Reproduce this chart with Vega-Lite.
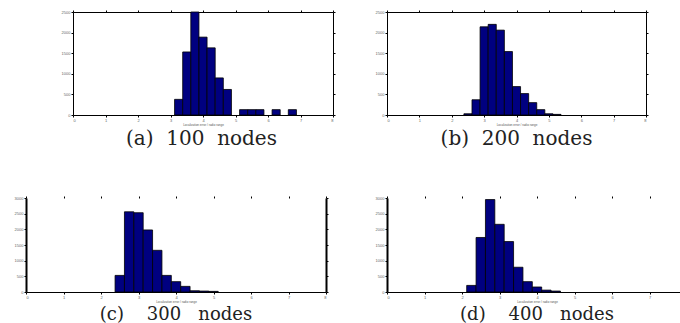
{
  "$schema": "https://vega.github.io/schema/vega-lite/v6.json",
  "padding": {"left": 14, "top": 9, "right": 0, "bottom": 0},
  "background": "white",
  "datasets": {
    "hist": [
      {"panel": "a", "x0": 3.125, "x1": 3.375, "count": 380},
      {"panel": "a", "x0": 3.375, "x1": 3.625, "count": 1530},
      {"panel": "a", "x0": 3.625, "x1": 3.875, "count": 2500},
      {"panel": "a", "x0": 3.875, "x1": 4.125, "count": 1890},
      {"panel": "a", "x0": 4.125, "x1": 4.375, "count": 1630},
      {"panel": "a", "x0": 4.375, "x1": 4.625, "count": 900},
      {"panel": "a", "x0": 4.625, "x1": 4.875, "count": 620},
      {"panel": "a", "x0": 5.125, "x1": 5.375, "count": 130},
      {"panel": "a", "x0": 5.375, "x1": 5.625, "count": 130},
      {"panel": "a", "x0": 5.625, "x1": 5.875, "count": 130},
      {"panel": "a", "x0": 6.125, "x1": 6.375, "count": 130},
      {"panel": "a", "x0": 6.625, "x1": 6.875, "count": 130},
      {"panel": "b", "x0": 2.375, "x1": 2.625, "count": 30},
      {"panel": "b", "x0": 2.625, "x1": 2.875, "count": 370},
      {"panel": "b", "x0": 2.875, "x1": 3.125, "count": 2140},
      {"panel": "b", "x0": 3.125, "x1": 3.375, "count": 2200},
      {"panel": "b", "x0": 3.375, "x1": 3.625, "count": 2060},
      {"panel": "b", "x0": 3.625, "x1": 3.875, "count": 1540},
      {"panel": "b", "x0": 3.875, "x1": 4.125, "count": 690},
      {"panel": "b", "x0": 4.125, "x1": 4.375, "count": 520},
      {"panel": "b", "x0": 4.375, "x1": 4.625, "count": 300},
      {"panel": "b", "x0": 4.625, "x1": 4.875, "count": 130},
      {"panel": "b", "x0": 4.875, "x1": 5.125, "count": 30},
      {"panel": "b", "x0": 5.125, "x1": 5.375, "count": 15},
      {"panel": "c", "x0": 2.375, "x1": 2.625, "count": 530},
      {"panel": "c", "x0": 2.625, "x1": 2.875, "count": 2560},
      {"panel": "c", "x0": 2.875, "x1": 3.125, "count": 2530},
      {"panel": "c", "x0": 3.125, "x1": 3.375, "count": 1980},
      {"panel": "c", "x0": 3.375, "x1": 3.625, "count": 1330},
      {"panel": "c", "x0": 3.625, "x1": 3.875, "count": 530},
      {"panel": "c", "x0": 3.875, "x1": 4.125, "count": 330},
      {"panel": "c", "x0": 4.125, "x1": 4.375, "count": 180},
      {"panel": "c", "x0": 4.375, "x1": 4.625, "count": 40},
      {"panel": "c", "x0": 4.625, "x1": 4.875, "count": 30},
      {"panel": "c", "x0": 4.875, "x1": 5.125, "count": 20},
      {"panel": "d", "x0": 2.125, "x1": 2.375, "count": 210},
      {"panel": "d", "x0": 2.375, "x1": 2.625, "count": 1740},
      {"panel": "d", "x0": 2.625, "x1": 2.875, "count": 2950},
      {"panel": "d", "x0": 2.875, "x1": 3.125, "count": 2160},
      {"panel": "d", "x0": 3.125, "x1": 3.375, "count": 1610},
      {"panel": "d", "x0": 3.375, "x1": 3.625, "count": 790},
      {"panel": "d", "x0": 3.625, "x1": 3.875, "count": 330},
      {"panel": "d", "x0": 3.875, "x1": 4.125, "count": 160},
      {"panel": "d", "x0": 4.125, "x1": 4.375, "count": 60},
      {"panel": "d", "x0": 4.375, "x1": 4.625, "count": 30}
    ]
  },
  "data": {"name": "hist"},
  "config": {
    "view": {"stroke": "black", "strokeWidth": 1},
    "axis": {
      "labelFontSize": 4, "labelColor": "#666", "labelFont": "Liberation Sans",
      "tickSize": 2, "tickColor": "black", "labelPadding": 1,
      "domainColor": "black", "grid": false,
      "titleFontSize": 3, "titleFont": "Liberation Sans", "titleColor": "#555", "titleFontWeight": "normal", "titlePadding": 1
    },
    "title": {"font": "DejaVu Serif", "fontSize": 20, "fontWeight": "normal", "color": "#222", "orient": "bottom", "offset": 3}
  },
  "columns": 2,
  "spacing": {"column": 38, "row": 45},
  "concat": [
    {
      "width": 307, "height": 103,
      "view": {"stroke": null},
      "title": {"text": "(a)\u00a0\u00a0100\u00a0\u00a0nodes", "dx": 22},
      "transform": [{"filter": "datum.panel == 'a'"}],
      "layer": [
        {
          "mark": {"type": "bar", "fill": "#000080", "stroke": "black", "strokeWidth": 0.8},
          "encoding": {
            "x": {"field": "x0", "type": "quantitative", "scale": {"domain": [0, 8], "nice": false, "range": [47, 307]}, "axis": {"values": [0,1,2,3,4,5,6,7,8], "title": "Localization error / radio range"}},
            "x2": {"field": "x1"},
            "y": {"field": "count", "type": "quantitative", "scale": {"domain": [0, 2500], "nice": false}, "axis": {"values": [0,500,1000,1500,2000,2500], "format": "d", "title": null, "offset": -47}},
            "y2": {"datum": 0}
          }
        },
        {
          "mark": {"type": "bar", "opacity": 0},
          "encoding": {
            "x": {"field": "x0", "type": "quantitative", "scale": {"domain": [0, 8], "nice": false, "range": [47, 307]}, "axis": {"orient": "top", "values": [0,1,2,3,4,5,6,7,8], "labels": false, "domain": true, "title": null}},
            "x2": {"field": "x1"},
            "y": {"field": "count", "type": "quantitative", "scale": {"domain": [0, 2500], "nice": false}, "axis": {"orient": "right", "values": [0,500,1000,1500,2000,2500], "labels": false, "domain": true, "title": null}},
            "y2": {"datum": 0}
          }
        }
      ],
      "resolve": {"axis": {"x": "independent", "y": "independent"}}
    },
    {
      "width": 259, "height": 103,
      "title": {"text": "(b)\u00a0\u00a0200\u00a0\u00a0nodes"},
      "transform": [{"filter": "datum.panel == 'b'"}],
      "layer": [
        {
          "mark": {"type": "bar", "fill": "#000080", "stroke": "black", "strokeWidth": 0.8},
          "encoding": {
            "x": {"field": "x0", "type": "quantitative", "scale": {"domain": [0, 8], "nice": false}, "axis": {"values": [0,1,2,3,4,5,6,7,8], "title": "Localization error / radio range"}},
            "x2": {"field": "x1"},
            "y": {"field": "count", "type": "quantitative", "scale": {"domain": [0, 2500], "nice": false}, "axis": {"values": [0,500,1000,1500,2000,2500], "format": "d", "title": null}},
            "y2": {"datum": 0}
          }
        },
        {
          "mark": {"type": "bar", "opacity": 0},
          "encoding": {
            "x": {"field": "x0", "type": "quantitative", "scale": {"domain": [0, 8], "nice": false}, "axis": {"orient": "top", "values": [0,1,2,3,4,5,6,7,8], "labels": false, "domain": false, "title": null}},
            "x2": {"field": "x1"},
            "y": {"field": "count", "type": "quantitative", "scale": {"domain": [0, 2500], "nice": false}, "axis": {"orient": "right", "values": [0,500,1000,1500,2000,2500], "labels": false, "domain": false, "title": null}},
            "y2": {"datum": 0}
          }
        }
      ],
      "resolve": {"axis": {"x": "independent", "y": "independent"}}
    },
    {
      "width": 300, "height": 94,
      "view": {"stroke": null},
      "title": {"text": "(c)\u00a0\u00a0\u00a0\u00a0300\u00a0\u00a0\u00a0nodes", "fontSize": 18, "offset": 3},
      "transform": [{"filter": "datum.panel == 'c'"}],
      "layer": [
        {
          "mark": {"type": "bar", "fill": "#000080", "stroke": "black", "strokeWidth": 0.8},
          "encoding": {
            "x": {"field": "x0", "type": "quantitative", "scale": {"domain": [0, 8], "nice": false}, "axis": {"values": [0,1,2,3,4,5,6,7,8], "title": "Localization error / radio range"}},
            "x2": {"field": "x1"},
            "y": {"field": "count", "type": "quantitative", "scale": {"domain": [0, 3000], "nice": false}, "axis": {"values": [0,500,1000,1500,2000,2500,3000], "format": "d", "title": null, "domainWidth": 2}},
            "y2": {"datum": 0}
          }
        },
        {
          "mark": {"type": "bar", "opacity": 0},
          "encoding": {
            "x": {"field": "x0", "type": "quantitative", "scale": {"domain": [0, 8], "nice": false}, "axis": {"orient": "top", "values": [0,1,2,3,4,5,6,7,8], "labels": false, "domain": false, "title": null}},
            "x2": {"field": "x1"},
            "y": {"field": "count", "type": "quantitative", "scale": {"domain": [0, 3000], "nice": false}, "axis": {"orient": "right", "values": [0,500,1000,1500,2000,2500,3000], "labels": false, "domain": true, "domainWidth": 2, "title": null}},
            "y2": {"datum": 0}
          }
        }
      ],
      "resolve": {"axis": {"x": "independent", "y": "independent"}}
    },
    {
      "width": 300, "height": 94,
      "view": {"stroke": null},
      "title": {"text": "(d)\u00a0\u00a0\u00a0\u00a0400\u00a0\u00a0\u00a0nodes", "fontSize": 18, "offset": 3},
      "transform": [{"filter": "datum.panel == 'd'"}],
      "layer": [
        {
          "mark": {"type": "bar", "fill": "#000080", "stroke": "black", "strokeWidth": 0.8},
          "encoding": {
            "x": {"field": "x0", "type": "quantitative", "scale": {"domain": [0, 8], "nice": false}, "axis": {"values": [0,1,2,3,4,5,6,7], "title": "Localization error / radio range"}},
            "x2": {"field": "x1"},
            "y": {"field": "count", "type": "quantitative", "scale": {"domain": [0, 3000], "nice": false}, "axis": {"values": [0,500,1000,1500,2000,2500,3000], "format": "d", "title": null, "domainWidth": 2}},
            "y2": {"datum": 0}
          }
        },
        {
          "mark": {"type": "bar", "opacity": 0},
          "encoding": {
            "x": {"field": "x0", "type": "quantitative", "scale": {"domain": [0, 8], "nice": false}, "axis": {"orient": "top", "values": [0,1,2,3,4,5,6,7], "labels": false, "domain": false, "title": null}},
            "x2": {"field": "x1"},
            "y": {"field": "count", "type": "quantitative", "scale": {"domain": [0, 3000], "nice": false}, "axis": {"orient": "right", "values": [0,500,1000,1500,2000,2500,3000], "labels": false, "domain": false, "title": null}},
            "y2": {"datum": 0}
          }
        }
      ],
      "resolve": {"axis": {"x": "independent", "y": "independent"}}
    }
  ]
}
